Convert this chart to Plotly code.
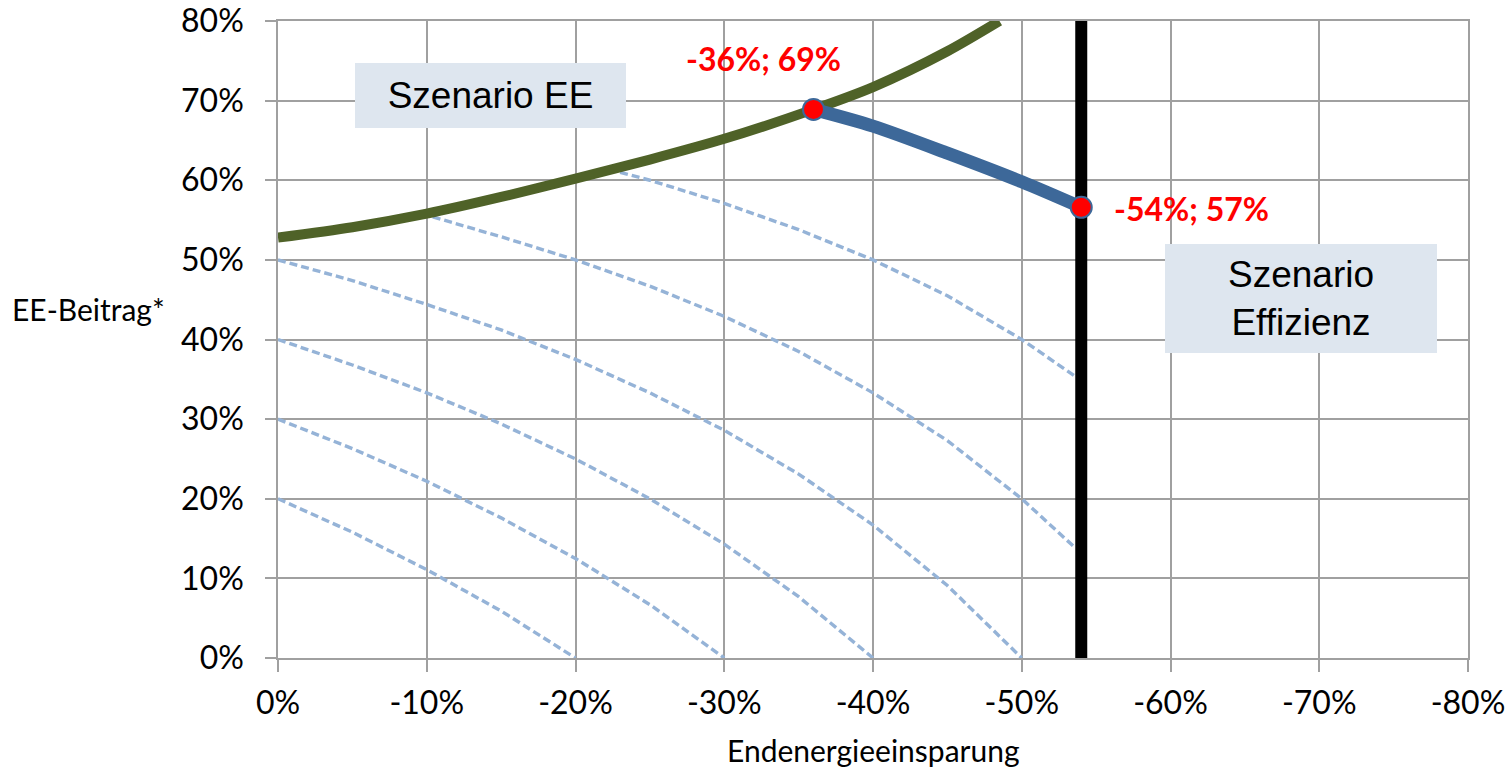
import plotly.graph_objects as go

# ---- data (percent values) ----
green_x = [0, -5, -10, -15, -20, -25, -30, -36, -40, -45, -48.5]
green_y = [52.8, 54.1, 55.8, 57.9, 60.2, 62.6, 65.2, 68.9, 71.7, 76.2, 80.0]

blue_x = [-36, -40, -45, -50, -54]
blue_y = [68.9, 66.8, 63.4, 59.8, 56.6]

points_x = [-36, -54]
points_y = [68.9, 56.6]
points_label = ["-36%; 69%", "-54%; 57%"]

iso80_x = [0, -5, -10, -15, -20]
iso80_y = [20, 15.8, 11.1, 5.9, 0]
iso70_x = [0, -5, -10, -15, -20, -25, -30]
iso70_y = [30, 26.3, 22.2, 17.6, 12.5, 6.7, 0]
iso60_x = [0, -5, -10, -15, -20, -25, -30, -35, -40]
iso60_y = [40, 36.8, 33.3, 29.4, 25.0, 20.0, 14.3, 7.7, 0]
iso50_x = [0, -5, -10, -15, -20, -25, -30, -35, -40, -45, -50]
iso50_y = [50, 47.4, 44.4, 41.2, 37.5, 33.3, 28.6, 23.1, 16.7, 9.1, 0]
iso40_x = [-10.4, -15, -20, -25, -30, -35, -40, -45, -50, -53.5]
iso40_y = [55.4, 52.9, 50.0, 46.7, 42.9, 38.5, 33.3, 27.3, 20.0, 14.0]
iso30_x = [-23, -25, -30, -35, -40, -45, -50, -53.5]
iso30_y = [61.0, 60.0, 57.1, 53.8, 50.0, 45.5, 40.0, 35.5]

limit_x = [-54, -54]
limit_y = [0, 80]

x_ticks = [0, -10, -20, -30, -40, -50, -60, -70, -80]
x_ticktext = ["0%", "-10%", "-20%", "-30%", "-40%", "-50%", "-60%", "-70%", "-80%"]
y_ticks = [0, 10, 20, 30, 40, 50, 60, 70, 80]
y_ticktext = ["0%", "10%", "20%", "30%", "40%", "50%", "60%", "70%", "80%"]

x_title = "Endenergieeinsparung"
y_title = "EE-Beitrag*"
box_texts = ["Szenario EE", "Szenario<br>Effizienz"]

# ---- styles ----
GRID = "#a0a0a0"
DASH_COLOR = "#95b3d7"
GREEN = "#4f6228"
BLUE = "#3d6899"
BOX_BG = "#dee6ef"

fig = go.Figure()

for xs, ys in [(iso80_x, iso80_y), (iso70_x, iso70_y), (iso60_x, iso60_y),
               (iso50_x, iso50_y), (iso40_x, iso40_y), (iso30_x, iso30_y)]:
    fig.add_trace(go.Scatter(x=xs, y=ys, mode="lines",
                             line=dict(color=DASH_COLOR, width=3.4, dash="8px,4px"),
                             hoverinfo="skip", showlegend=False))

fig.add_trace(go.Scatter(x=green_x, y=green_y, mode="lines",
                         line=dict(color=GREEN, width=10, shape="spline", smoothing=0.8),
                         showlegend=False))
fig.add_trace(go.Scatter(x=limit_x, y=limit_y, mode="lines",
                         line=dict(color="black", width=12), showlegend=False))
fig.add_trace(go.Scatter(x=blue_x, y=blue_y, mode="lines",
                         line=dict(color=BLUE, width=13, shape="spline", smoothing=0.8),
                         showlegend=False))
fig.add_trace(go.Scatter(x=points_x, y=points_y, mode="markers",
                         marker=dict(color="#ff0000", size=21, line=dict(color=BLUE, width=2)),
                         showlegend=False))

label_font = dict(family="Lato", size=32, color="#ff0000", weight="bold")
fig.add_annotation(x=points_x[0], y=points_y[0], text="<b>" + points_label[0] + "</b>",
                   showarrow=False, xshift=-50, yshift=51, font=label_font)
fig.add_annotation(x=points_x[1], y=points_y[1], text="<b>" + points_label[1] + "</b>",
                   showarrow=False, xanchor="left", xshift=31, yshift=-1, font=label_font)

box_font = dict(family="Liberation Sans", size=37, color="black")
fig.add_annotation(x=-14.3, y=70.6, text=box_texts[0], showarrow=False,
                   width=271, height=65, bgcolor=BOX_BG, borderwidth=0, borderpad=0,
                   font=box_font, align="center", valign="middle")
fig.add_annotation(x=-68.8, y=45.15, text=box_texts[1], showarrow=False,
                   width=272, height=109, bgcolor=BOX_BG, borderwidth=0, borderpad=0,
                   font=box_font, align="center", valign="middle")

title_font = dict(family="Lato", size=30, color="black")
fig.add_annotation(xref="paper", yref="paper", x=-0.225, y=0.548, xanchor="left",
                   yanchor="middle", text=y_title, showarrow=False, font=title_font)
fig.add_annotation(xref="paper", yref="paper", x=0.5, y=-0.145, xanchor="center",
                   yanchor="middle", text=x_title, showarrow=False, font=title_font)

tick_font = dict(family="Lato", size=32, color="black")
fig.update_xaxes(range=[0, -80], tickvals=x_ticks, ticktext=x_ticktext,
                 showgrid=True, gridcolor=GRID, gridwidth=1.5,
                 showline=True, linecolor=GRID, linewidth=1.5, mirror=True,
                 ticks="outside", ticklen=12, tickcolor=GRID, tickwidth=1.5,
                 tickfont=tick_font, ticklabelstandoff=4, zeroline=False,
                 automargin=False)
fig.update_yaxes(range=[0, 80], tickvals=y_ticks, ticktext=y_ticktext,
                 showgrid=True, gridcolor=GRID, gridwidth=1.5,
                 showline=True, linecolor=GRID, linewidth=1.5, mirror=True,
                 ticks="outside", ticklen=11, tickcolor=GRID, tickwidth=1.5,
                 tickfont=tick_font, ticklabelstandoff=15, zeroline=False,
                 automargin=False)

fig.update_layout(width=1512, height=774,
                  margin=dict(l=278, r=44, t=21, b=116),
                  plot_bgcolor="white", paper_bgcolor="white",
                  showlegend=False)

fig.write_html("out.html")
